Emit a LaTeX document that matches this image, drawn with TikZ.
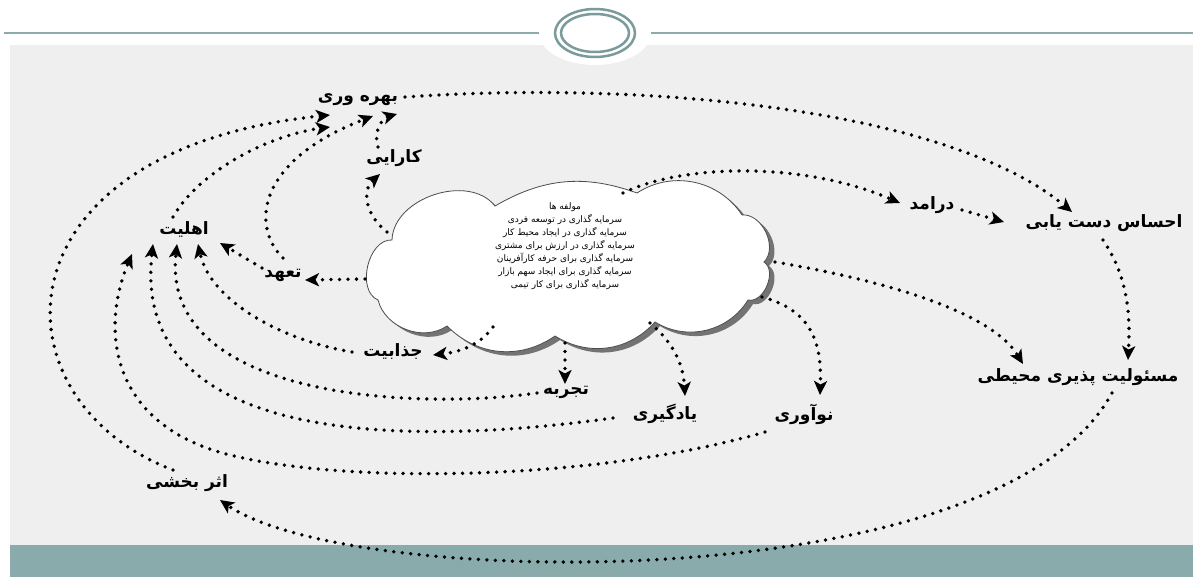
\documentclass[tikz,border=0pt]{standalone}
\usepackage{fontspec}
\newfontfamily\arabicfont[Script=Arabic]{DejaVu Sans}
\TeXXeTstate=1
\usetikzlibrary{arrows.meta,calc}
\newcommand{\fa}[1]{{\arabicfont\beginR #1\endR}}
\definecolor{bandteal}{HTML}{8AABAB}
\definecolor{linetealc}{HTML}{8FAAAA}
\definecolor{ringteal}{HTML}{7A9B9B}
\definecolor{bgray}{HTML}{EFEFEF}
\newcommand{\cloudoutline}{(392,240) to[bend left=70] (495,206) to[bend left=25] (637,193)
  to[bend left=45] (742,215) to[bend left=70] (764,262) to[bend left=80] (748,300)
  to[bend left=45] (655,322) to[bend left=40] (555,336) to[bend left=40] (447,326)
  to[bend left=55] (378,300) to[bend left=80] (392,240) -- cycle}
\begin{document}
\begin{tikzpicture}[x=1pt,y=-1pt,
  lbl/.style={font=\arabicfont\bfseries\fontsize{17}{19}\selectfont, inner sep=0pt},
  dotline/.style={line width=3.8pt, line cap=round, dash pattern=on 0pt off 8.5pt,
     -{Stealth[length=14pt,width=13pt,inset=3.5pt]}},
 ]
\useasboundingbox (0,0) rectangle (1193,577);
% background
\fill[white] (0,0) rectangle (1193,577);
\fill[bgray] (10,45) rectangle (1193,545);
\fill[bandteal] (10,545) rectangle (1193,577);
\draw[linetealc, line width=2pt] (4,33) -- (1193,33);
\fill[white] (595,33) ellipse [x radius=56, y radius=32];
\draw[ringteal, line width=2.5pt] (595,33) ellipse [x radius=40, y radius=24];
\draw[ringteal, line width=2.5pt] (595,33) ellipse [x radius=34, y radius=19];

% cloud
\fill[black!55, shift={(5,4)}] \cloudoutline;
\draw[black!70, fill=white, line width=0.8pt] \cloudoutline;
\coordinate (cloud) at (565,262);
\node[font=\arabicfont\fontsize{9}{13}\selectfont, align=center, inner sep=0pt] (ctext) at (565,246)
 {\fa{مولفه ها}\\
  \fa{سرمایه گذاری در توسعه فردی}\\
  \fa{سرمایه گذاری در ایجاد محیط کار}\\
  \fa{سرمایه گذاری در ارزش برای مشتری}\\
  \fa{سرمایه گذاری برای حرفه کارآفرینان}\\
  \fa{سرمایه گذاری برای ایجاد سهم بازار}\\
  \fa{سرمایه گذاری برای کار تیمی}};

% labels
\node[lbl] (bv) at (358,100) {\fa{بهره وری}};
\node[lbl] (ka) at (394,158) {\fa{کارایی}};
\node[lbl] (ah) at (184,229) {\fa{اهلیت}};
\node[lbl] (ta) at (283,275) {\fa{تعهد}};
\node[lbl] (ja) at (393,352) {\fa{جذابیت}};
\node[lbl] (tj) at (566,392) {\fa{تجربه}};
\node[lbl] (ya) at (665,414) {\fa{یادگیری}};
\node[lbl] (no) at (804,414) {\fa{نوآوری}};
\node[lbl] (da) at (932,205) {\fa{درامد}};
\node[lbl] (ed) at (1104,223) {\fa{احساس دست یابی}};
\node[lbl] (ma) at (1078,377) {\fa{مسئولیت پذیری محیطی}};
\node[lbl] (ab) at (187,483) {\fa{اثر بخشی}};

% connector end points
\coordinate (cKa) at (387,232);
\coordinate (cDa) at (623,193);
\coordinate (cMa) at (775,262);
\coordinate (cTa) at (365,279);
\coordinate (cJa) at (493,327);
\coordinate (cTj) at (565,343);
\coordinate (cYa) at (650,323);
\coordinate (cNo) at (762,297);
\coordinate (kaIn) at (380,174);
\coordinate (kaOut) at (378,147);
\coordinate (bv1) at (330,115);
\coordinate (bv2) at (330,127);
\coordinate (bv3) at (373,116);
\coordinate (bv4) at (397,114);
\coordinate (bvOut) at (405,97);
\coordinate (ah1) at (132,254);
\coordinate (ah2) at (153,244);
\coordinate (ah3) at (177,244);
\coordinate (ah4) at (198,244);
\coordinate (ah5) at (220,243);
\coordinate (ahOut) at (173,217);
\coordinate (taOut1) at (283,258);
\coordinate (taOut2) at (262,268);
\coordinate (taIn) at (305,280);
\coordinate (jaIn) at (433,355);
\coordinate (jaOut) at (352,352);
\coordinate (tjIn) at (565,384);
\coordinate (tjOut) at (537,393);
\coordinate (yaIn) at (685,396);
\coordinate (yaOut) at (613,418);
\coordinate (noIn) at (820,395);
\coordinate (noOut) at (765,432);
\coordinate (daIn) at (900,203);
\coordinate (daOut) at (962,210);
\coordinate (edIn1) at (1072,212);
\coordinate (edIn2) at (1004,222);
\coordinate (edOut) at (1103,240);
\coordinate (maIn1) at (1128,360);
\coordinate (maIn2) at (1023,364);
\coordinate (maOut) at (1112,393);
\coordinate (abIn) at (220,500);
\coordinate (abOut) at (173,470);

% connectors
\draw[dotline] (cKa) .. controls (365,215) and (362,190) .. (kaIn);
\draw[dotline] (kaOut) .. controls (373,130) and (383,118) .. (bv4);
\draw[dotline] (taOut1) .. controls (250,225) and (258,160) .. (bv3);
\draw[dotline] (ahOut) .. controls (200,170) and (270,135) .. (bv2);
\draw[dotline] (abOut) .. controls (-10,400) and (-10,150) .. (bv1);
\draw[dotline] (bvOut) .. controls (650,80) and (950,110) .. (edIn1);
\draw[dotline] (cDa) .. controls (680,165) and (800,160) .. (daIn);
\draw[dotline] (daOut) -- (edIn2);
\draw[dotline] (edOut) .. controls (1130,280) and (1130,320) .. (maIn1);
\draw[dotline] (cMa) .. controls (880,280) and (990,310) .. (maIn2);
\draw[dotline] (maOut) .. controls (1000,600) and (350,590) .. (abIn);
\draw[dotline] (cTa) -- (taIn);
\draw[dotline] (taOut2) -- (ah5);
\draw[dotline] (cJa) .. controls (480,345) and (460,352) .. (jaIn);
\draw[dotline] (jaOut) .. controls (280,340) and (210,300) .. (ah4);
\draw[dotline] (cTj) -- (tjIn);
\draw[dotline] (tjOut) .. controls (420,410) and (160,400) .. (ah3);
\draw[dotline] (cYa) .. controls (670,340) and (683,360) .. (yaIn);
\draw[dotline] (yaOut) .. controls (420,445) and (130,450) .. (ah2);
\draw[dotline] (cNo) .. controls (810,310) and (822,340) .. (noIn);
\draw[dotline] (noOut) .. controls (600,480) and (350,485) .. (230,455)
   .. controls (110,425) and (100,330) .. (ah1);
\end{tikzpicture}
\end{document}
